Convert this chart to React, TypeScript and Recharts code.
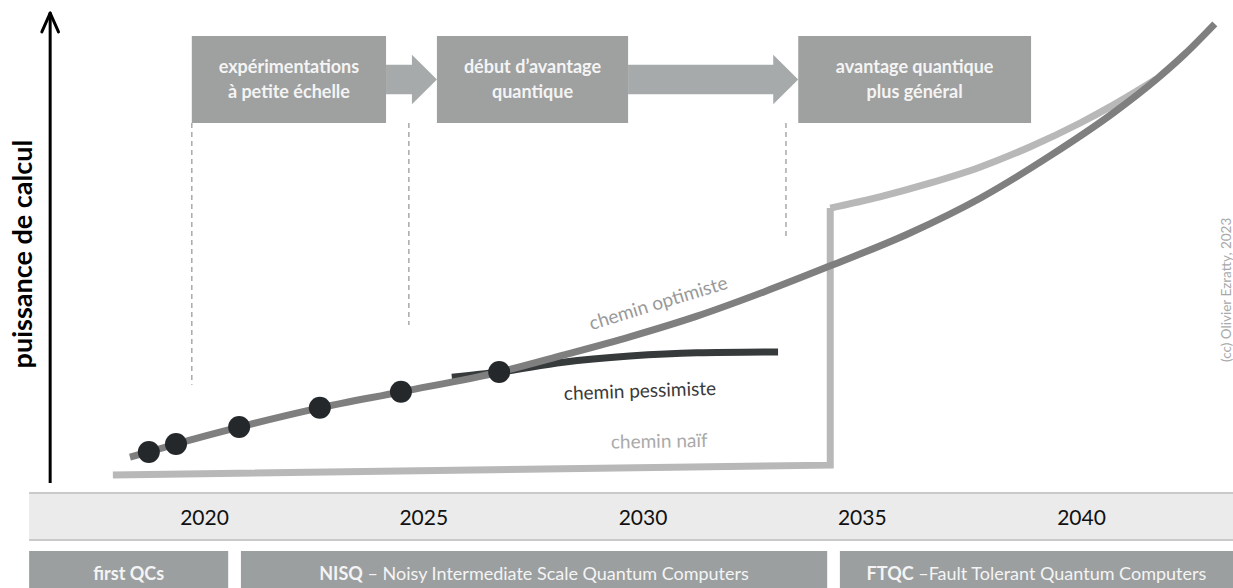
import {
  ComposedChart,
  Line,
  Scatter,
  XAxis,
  YAxis,
  ReferenceArea,
  ReferenceLine,
  ReferenceDot,
} from "recharts";

const W = 1233;
const H = 588;
// x in years, y in arbitrary "computing power" units (0 = baseline, 100 = arrow tip)
const X_MIN = 2015.336;
const X_MAX = 2043.455;
const Y_MIN = -22.34;
const Y_MAX = 102.77;

const YEARS = [2020, 2025, 2030, 2035, 2040];

const OPTIMISTE = [
  { year: 2018.3, value: 5.5 },
  { year: 2018.73, value: 6.6 },
  { year: 2019.35, value: 8.3 },
  { year: 2020.79, value: 11.9 },
  { year: 2022.63, value: 16.0 },
  { year: 2024.48, value: 19.4 },
  { year: 2026.72, value: 23.6 },
  { year: 2028.18, value: 27.2 },
  { year: 2029.7, value: 31.1 },
  { year: 2031.23, value: 35.5 },
  { year: 2032.74, value: 40.6 },
  { year: 2034.27, value: 46.2 },
  { year: 2036.09, value: 53.2 },
  { year: 2037.69, value: 60.6 },
  { year: 2039.28, value: 69.6 },
  { year: 2040.72, value: 78.7 },
  { year: 2041.72, value: 86.0 },
  { year: 2042.36, value: 91.3 },
  { year: 2043.04, value: 97.7 },
];

const PESSIMISTE = [
  { year: 2025.64, value: 22.5 },
  { year: 2026.72, value: 23.6 },
  { year: 2028.18, value: 25.7 },
  { year: 2029.7, value: 27.0 },
  { year: 2031.23, value: 27.7 },
  { year: 2033.08, value: 27.9 },
];

// naive path: almost flat, then a sudden jump
const NAIF = [
  { year: 2017.91, value: 1.7 },
  { year: 2034.27, value: 3.8 },
  { year: 2034.27, value: 58.5 },
];
const NAIF_SUITE = [
  { year: 2034.27, value: 58.5 },
  { year: 2035.4, value: 60.9 },
  { year: 2036.54, value: 63.8 },
  { year: 2037.68, value: 67.2 },
  { year: 2038.82, value: 71.5 },
  { year: 2039.97, value: 76.6 },
  { year: 2040.72, value: 80.4 },
  { year: 2041.72, value: 86.0 },
];

const JALONS = [
  { year: 2018.73, value: 6.6 },
  { year: 2019.35, value: 8.3 },
  { year: 2020.79, value: 11.9 },
  { year: 2022.63, value: 16.0 },
  { year: 2024.48, value: 19.4 },
  { year: 2026.72, value: 23.6 },
];

const ETAPES = [
  { debut: 2019.71, fin: 2024.14, lignes: ["expérimentations", "à petite échelle"] },
  { debut: 2025.3, fin: 2029.66, lignes: ["début d’avantage", "quantique"] },
  { debut: 2033.54, fin: 2038.85, lignes: ["avantage quantique", "plus général"] },
];
const ETAPE_HAUT = 95.1;
const ETAPE_BAS = 76.6;

const FLECHES = [
  { debut: 2024.14, fin: 2025.3 },
  { debut: 2029.66, fin: 2033.54 },
];
const FLECHE_HAUT = 91.1;
const FLECHE_BAS = 80.6;

const REPERES = [
  { year: 2019.71, bas: 20.9 },
  { year: 2024.66, bas: 33.6 },
  { year: 2033.26, bas: 52.3 },
];

const PHASES = [
  { debut: 2016.0, fin: 2020.54, sigle: "first QCs", texte: "" },
  { debut: 2020.83, fin: 2034.2, sigle: "NISQ", texte: " – Noisy Intermediate Scale Quantum Computers" },
  { debut: 2034.49, fin: X_MAX, sigle: "FTQC", texte: " –Fault Tolerant Quantum Computers" },
];
const PHASE_HAUT = -14.47;

const BANDE_HAUT = -2.13;
const BANDE_BAS = -12.13;
const BANDE_MILIEU = -7.3;
const BANDE_DEBUT = 2016.0;

const AXE_X = 2016.48;
const FONT = "Lato, 'Open Sans', sans-serif";

const yearLabel = (txt: string) => (p: any) => {
  const { x, y } = p.viewBox;
  return (
    <text x={x} y={y + 7.5} textAnchor="middle" fontFamily={FONT} fontSize={21} fill="#111">
      {txt}
    </text>
  );
};

const stageLabel = (lignes: string[]) => (p: any) => {
  const { x, y, width, height } = p.viewBox;
  const cx = x + width / 2;
  const cy = y + height / 2;
  return (
    <text textAnchor="middle" fill="#f4f4f4" fontFamily={FONT} fontWeight={700} fontSize={18}>
      {lignes.map((l, i) => (
        <tspan key={i} x={cx} y={cy + (i - (lignes.length - 1) / 2) * 25 + 6}>
          {l}
        </tspan>
      ))}
    </text>
  );
};

const phaseLabel = (sigle: string, texte: string) => (p: any) => {
  const { x, y, width } = p.viewBox;
  return (
    <text x={x + width / 2} y={y + 29} textAnchor="middle" fill="#f4f4f4" fontFamily={FONT} fontSize={18}>
      <tspan fontWeight={700}>{sigle}</tspan>
      {texte && <tspan>{texte}</tspan>}
    </text>
  );
};

const arrowShape = (p: any) => {
  const { x, y, width, height } = p;
  const head = 25;
  const half = height * 0.3;
  const cy = y + height / 2;
  const bx = x + width - head;
  const pts = [
    [x, cy - half],
    [bx, cy - half],
    [bx, y],
    [x + width, cy],
    [bx, y + height],
    [bx, cy + half],
    [x, cy + half],
  ];
  return <polygon points={pts.map((q) => q.join(",")).join(" ")} fill="#a7aaaa" />;
};

const freeText =
  (txt: string, angle: number, size: number, color: string, weight = 400) =>
  (p: any) => {
    const { x, y } = p.viewBox;
    return (
      <text
        x={x}
        y={y}
        transform={`rotate(${angle} ${x} ${y})`}
        textAnchor="middle"
        dominantBaseline="central"
        fontFamily={FONT}
        fontSize={size}
        fontWeight={weight}
        fill={color}
      >
        {txt}
      </text>
    );
  };

const dotShape = (p: any) => <circle cx={p.cx} cy={p.cy} r={11} fill="#24282b" />;

export default function App() {
  return (
    <div style={{ position: "absolute", left: 0, top: 0, width: W, height: H, background: "#fff" }}>
      <ComposedChart width={W} height={H} margin={{ top: 0, right: 0, bottom: 0, left: 0 }}>
        <XAxis dataKey="year" type="number" domain={[X_MIN, X_MAX]} allowDataOverflow hide />
        <YAxis dataKey="value" type="number" domain={[Y_MIN, Y_MAX]} allowDataOverflow hide />

        {/* year band */}
        <ReferenceArea x1={BANDE_DEBUT} x2={X_MAX} y1={BANDE_BAS} y2={BANDE_HAUT} fill="#ebebeb" fillOpacity={1} stroke="none" />
        <ReferenceLine segment={[{ x: BANDE_DEBUT, y: BANDE_HAUT }, { x: X_MAX, y: BANDE_HAUT }]} stroke="#c9c9c9" strokeWidth={2} />
        <ReferenceLine segment={[{ x: BANDE_DEBUT, y: BANDE_BAS }, { x: X_MAX, y: BANDE_BAS }]} stroke="#c9c9c9" strokeWidth={2} />
        {YEARS.map((yr) => (
          <ReferenceDot key={yr} x={yr} y={BANDE_MILIEU} r={0} fill="none" stroke="none" label={yearLabel(String(yr))} />
        ))}

        {/* technology phases */}
        {PHASES.map((ph) => (
          <ReferenceArea
            key={ph.sigle}
            x1={ph.debut}
            x2={ph.fin}
            y1={Y_MIN}
            y2={PHASE_HAUT}
            fill="#9c9fa0"
            fillOpacity={1}
            stroke="none"
            label={phaseLabel(ph.sigle, ph.texte)}
          />
        ))}

        {/* milestone boxes and arrows */}
        {FLECHES.map((f, i) => (
          <ReferenceArea key={"f" + i} x1={f.debut} x2={f.fin} y1={FLECHE_BAS} y2={FLECHE_HAUT} shape={arrowShape} />
        ))}
        {ETAPES.map((e, i) => (
          <ReferenceArea
            key={"e" + i}
            x1={e.debut}
            x2={e.fin}
            y1={ETAPE_BAS}
            y2={ETAPE_HAUT}
            fill="#9fa0a0"
            fillOpacity={1}
            stroke="none"
            label={stageLabel(e.lignes)}
          />
        ))}
        {REPERES.map((r, i) => (
          <ReferenceLine
            key={"r" + i}
            segment={[{ x: r.year, y: ETAPE_BAS }, { x: r.year, y: r.bas }]}
            stroke="#a9a9a9"
            strokeWidth={1.5}
            strokeDasharray="5 4"
          />
        ))}

        {/* y axis arrow */}
        <ReferenceLine segment={[{ x: AXE_X, y: 0 }, { x: AXE_X, y: 100 }]} stroke="#000" strokeWidth={3} />
        <ReferenceLine segment={[{ x: AXE_X - 0.19, y: 96 }, { x: AXE_X, y: 100 }]} stroke="#000" strokeWidth={3} strokeLinecap="round" />
        <ReferenceLine segment={[{ x: AXE_X, y: 100 }, { x: AXE_X + 0.19, y: 96 }]} stroke="#000" strokeWidth={3} strokeLinecap="round" />

        {/* paths */}
        <Line data={NAIF} dataKey="value" type="linear" stroke="#b8b8b8" strokeWidth={7} dot={false} activeDot={false} isAnimationActive={false} />
        <Line data={NAIF_SUITE} dataKey="value" type="monotone" stroke="#b8b8b8" strokeWidth={7} dot={false} activeDot={false} isAnimationActive={false} />
        <Line data={PESSIMISTE} dataKey="value" type="monotone" stroke="#363a3b" strokeWidth={7} dot={false} activeDot={false} isAnimationActive={false} />
        <Line data={OPTIMISTE} dataKey="value" type="monotone" stroke="#7f7f7f" strokeWidth={7} dot={false} activeDot={false} isAnimationActive={false} />
        <Scatter data={JALONS} dataKey="value" shape={dotShape} isAnimationActive={false} />

        {/* texts */}
        <ReferenceDot x={2030.34} y={38.5} r={0} fill="none" stroke="none" label={freeText("chemin optimiste", -17, 19, "#999")} />
        <ReferenceDot x={2029.93} y={19.8} r={0} fill="none" stroke="none" label={freeText("chemin pessimiste", -2, 19, "#3a3a3a")} />
        <ReferenceDot x={2030.37} y={9.1} r={0} fill="none" stroke="none" label={freeText("chemin naïf", -1, 19, "#aaa")} />
        <ReferenceDot x={2015.82} y={48.7} r={0} fill="none" stroke="none" label={freeText("puissance de calcul", -90, 27, "#000", 700)} />
        <ReferenceDot x={2043.3} y={41.1} r={0} fill="none" stroke="none" label={freeText("(cc) Olivier Ezratty, 2023", -90, 13.5, "#a8a8a8")} />
      </ComposedChart>
    </div>
  );
}
